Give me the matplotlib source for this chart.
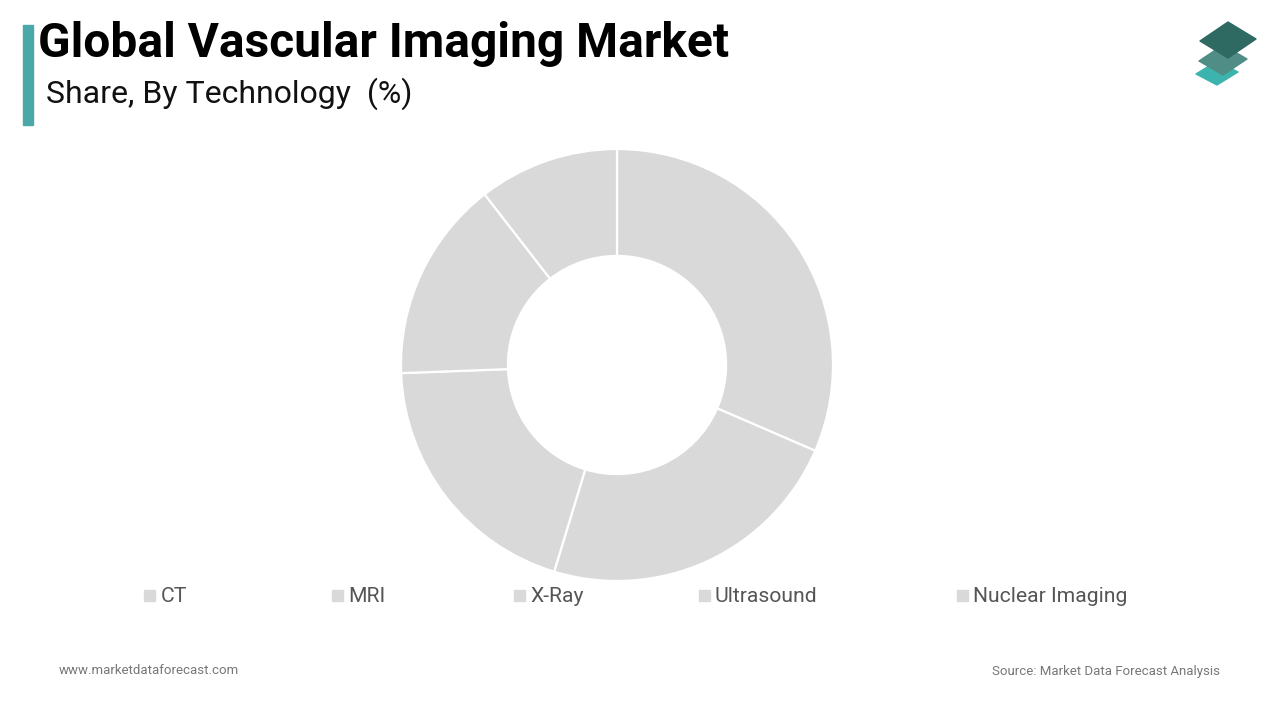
import matplotlib.pyplot as plt
from matplotlib.patches import Polygon, Rectangle

plt.rcParams['font.family'] = ['Roboto', 'DejaVu Sans']

# 技術別シェア (%)
labels = ['CT', 'MRI', 'X-Ray', 'Ultrasound', 'Nuclear Imaging']
shares = [31.5, 23.2, 19.7, 15.1, 10.5]
slice_color = '#d9d9d9'

fig = plt.figure(figsize=(12.8, 7.2), dpi=100)
fig.patch.set_facecolor('white')

# ドーナツ
ax = fig.add_axes([(617 - 216) / 1280, (720 - 581) / 720, 432 / 1280, 432 / 720])
ax.pie(shares, colors=[slice_color] * len(shares), startangle=90, counterclock=False,
       radius=1, wedgeprops=dict(width=0.495, edgecolor='white', linewidth=1.6))
ax.set_xlim(-1, 1)
ax.set_ylim(-1, 1)
ax.set_aspect('equal')
ax.axis('off')

# タイトル
fig.patches.append(Rectangle((23 / 1280, 1 - 125 / 720), 10 / 1280, 100 / 720,
                             transform=fig.transFigure, color='#4aa8a8'))
fig.text(38 / 1280, 1 - 44 / 720, 'Global Vascular Imaging Market', fontsize=34.5,
         fontweight='bold', va='center', ha='left', color='black')
fig.text(46 / 1280, 1 - 94 / 720, 'Share, By Technology  (%)', fontsize=23,
         va='center', ha='left', color='#111111')

# ロゴ
def diamond(cx, cy, w, h, c):
    pts = [(cx - w / 2, cy + 1), (cx, cy - h / 2), (cx + w / 2, cy - 1), (cx, cy + h / 2)]
    pts = [(x / 1280, 1 - y / 720) for x, y in pts]
    fig.patches.append(Polygon(pts, closed=True, transform=fig.transFigure, color=c,
                               joinstyle='round'))

diamond(1217, 73, 42, 24, '#3db3ad')
diamond(1223, 60, 48, 30, '#4f8d86')
diamond(1228, 40, 56, 36, '#2e6a62')

# 凡例
legend_x = [149.5, 337, 519, 704, 962]
for x, lab in zip(legend_x, labels):
    fig.patches.append(Rectangle(((x - 5.5) / 1280, 1 - 601 / 720), 11 / 1280, 11 / 720,
                                 transform=fig.transFigure, color=slice_color))
    fig.text((x + 11) / 1280, 1 - 596 / 720, lab, fontsize=15.2, color='#555555',
             va='center', ha='left')

# フッター
fig.text(59 / 1280, 1 - 671 / 720, 'www.marketdataforecast.com', fontsize=9.5,
         color='#777777', va='center', ha='left')
fig.text(1220 / 1280, 1 - 671 / 720, 'Source: Market Data Forecast Analysis', fontsize=9.5,
         color='#777777', va='center', ha='right')

plt.savefig('out.png', dpi=100)
